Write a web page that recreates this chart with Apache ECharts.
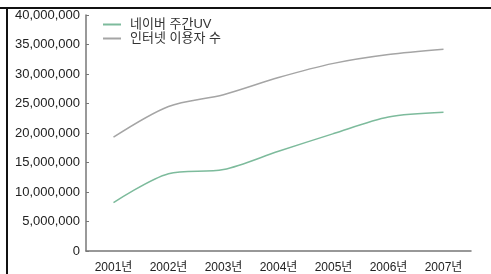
<!DOCTYPE html>
<html>
<head>
<meta charset="utf-8">
<script src="https://cdn.jsdelivr.net/npm/echarts@6/dist/echarts.min.js"></script>
<style>
  html, body { margin: 0; padding: 0; background: #fff; }
  #chart { width: 491px; height: 274px; }
</style>
</head>
<body>
<div id="chart"></div>
<script>
  // values
  const years = ['2001년', '2002년', '2003년', '2004년', '2005년', '2006년', '2007년']
  const naverUV = [8200000, 13100000, 13800000, 16900000, 19900000, 22700000, 23500000]
  const internetUsers = [19300000, 24500000, 26500000, 29400000, 31800000, 33300000, 34200000]
  const seriesNames = ['네이버 주간UV', '인터넷 이용자 수']

  const chart = echarts.init(document.getElementById('chart'), null, { renderer: 'canvas' })

  const font = "'Liberation Sans', 'Noto Sans CJK KR', sans-serif"

  const option = {
    animation: false,
    backgroundColor: '#fff',
    grid: { left: 86, right: 20, top: 15, bottom: 21 },
    legend: {
      orient: 'vertical',
      left: 98,
      top: 13,
      itemGap: 1,
      itemWidth: 18,
      itemHeight: 2,
      icon: 'rect',
      textStyle: { fontFamily: font, fontSize: 13, color: '#333', padding: [0, 0, 0, 4] },
      data: seriesNames
    },
    xAxis: {
      type: 'category',
      data: years,
      boundaryGap: true,
      axisLine: { lineStyle: { color: '#777', width: 1.5 } },
      axisTick: { inside: true, length: 3, lineStyle: { color: '#777' } },
      axisLabel: { fontFamily: font, fontSize: 12, color: '#222', margin: 11 }
    },
    yAxis: {
      type: 'value',
      min: 0,
      max: 40000000,
      interval: 5000000,
      splitLine: { show: false },
      axisLine: { show: true, lineStyle: { color: '#777', width: 1.5 } },
      axisTick: { show: true, inside: true, length: 3, lineStyle: { color: '#777' } },
      axisLabel: {
        fontFamily: font, fontSize: 13, color: '#222', margin: 6,
        formatter: v => v.toLocaleString('en-US')
      }
    },
    series: [
      {
        name: seriesNames[0],
        type: 'line',
        data: naverUV,
        smooth: 0.3,
        symbol: 'none',
        itemStyle: { color: '#7dbb9c' },
        lineStyle: { color: '#7dbb9c', width: 1.5 }
      },
      {
        name: seriesNames[1],
        type: 'line',
        data: internetUsers,
        smooth: 0.3,
        symbol: 'none',
        itemStyle: { color: '#a5a5a5' },
        lineStyle: { color: '#a5a5a5', width: 1.5 }
      }
    ],
    graphic: [
      { type: 'rect', shape: { x: 0, y: 7, width: 491, height: 2 }, style: { fill: '#111' } },
      { type: 'rect', shape: { x: 6, y: 7, width: 2, height: 267 }, style: { fill: '#111' } }
    ]
  }

  chart.setOption(option)
</script>
</body>
</html>
